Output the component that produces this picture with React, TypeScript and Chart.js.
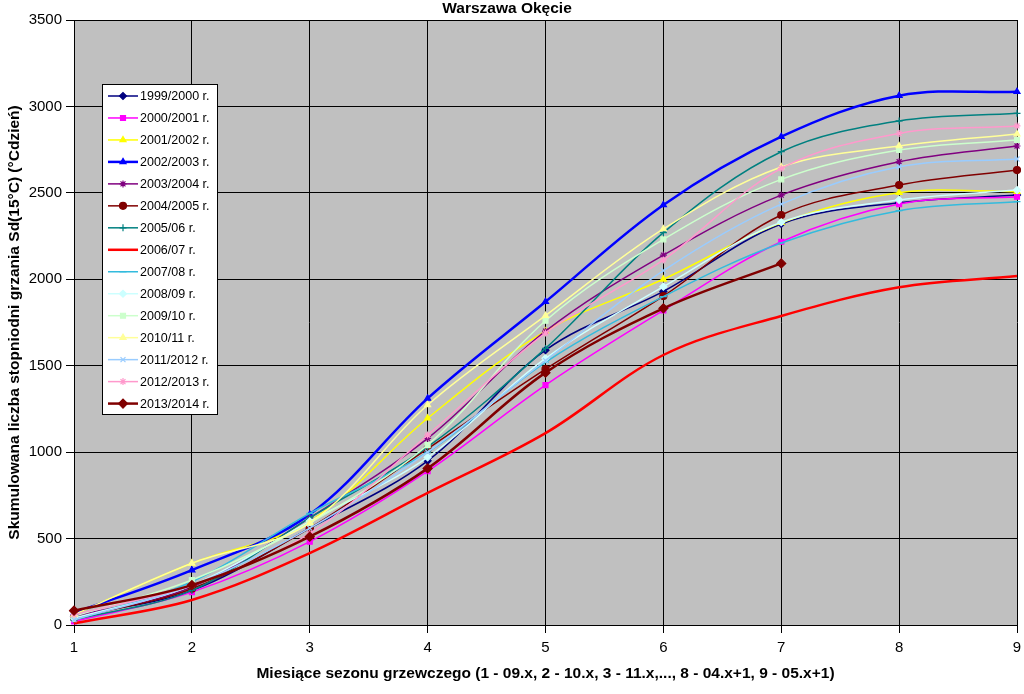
import { useEffect, useRef } from "react";
import { Chart, registerables } from "chart.js";
import { drawPoint } from "chart.js/helpers";

Chart.register(...registerables);

const MONTHS = ["1", "2", "3", "4", "5", "6", "7", "8", "9"];

const SEASONS = [
  "1999/2000 r.",
  "2000/2001 r.",
  "2001/2002 r.",
  "2002/2003 r.",
  "2003/2004 r.",
  "2004/2005 r.",
  "2005/06 r.",
  "2006/07 r.",
  "2007/08 r.",
  "2008/09 r.",
  "2009/10 r.",
  "2010/11 r.",
  "2011/2012 r.",
  "2012/2013 r.",
  "2013/2014 r.",
];

const COLORS = [
  "#000080", "#ff00ff", "#ffff00", "#0000ff", "#800080",
  "#800000", "#008080", "#ff0000", "#33bbdd", "#ccffff",
  "#ccffcc", "#ffff99", "#99ccff", "#ff99cc", "#800000",
];

const MARKERS = [
  "rectRot", "rect", "triangle", "triangle", "star",
  "circle", "cross", false, "line", "rectRot",
  "rect", "triangle", "crossRot", "star", "rectRot",
];

const WIDTHS = [1.5, 1.5, 1.5, 2.5, 1.5, 1.5, 1.5, 2.5, 1.5, 1.5, 1.5, 1.5, 1.5, 1.5, 2.5];

// cumulative degree-days per month of the season
const S1999 = [50, 200, 560, 950, 1590, 1930, 2320, 2443, 2487];
const S2000 = [20, 190, 482, 890, 1388, 1820, 2217, 2435, 2478];
const S2001 = [60, 357, 600, 1196, 1700, 2000, 2327, 2501, 2507];
const S2002 = [70, 318, 640, 1311, 1870, 2430, 2825, 3062, 3085];
const S2003 = [50, 220, 620, 1080, 1700, 2140, 2487, 2680, 2771];
const S2004 = [40, 210, 560, 1020, 1480, 1903, 2372, 2545, 2632];
const S2005 = [30, 200, 620, 1030, 1600, 2270, 2738, 2916, 2960];
const S2006 = [10, 145, 416, 764, 1110, 1562, 1788, 1954, 2019];
const S2007 = [30, 250, 646, 1000, 1520, 1900, 2210, 2397, 2449];
const S2008 = [40, 230, 600, 970, 1543, 1957, 2330, 2459, 2516];
const S2009 = [50, 260, 590, 1041, 1760, 2231, 2578, 2748, 2806];
const S2010 = [60, 357, 590, 1273, 1790, 2291, 2650, 2771, 2840];
const S2011 = [30, 230, 560, 1000, 1530, 2050, 2435, 2651, 2696];
const S2012 = [60, 230, 530, 1099, 1689, 2112, 2642, 2844, 2887];
const S2013 = [83, 231, 511, 906, 1460, 1832, 2092, null, null];

const VALUES = [S1999, S2000, S2001, S2002, S2003, S2004, S2005, S2006, S2007, S2008, S2009, S2010, S2011, S2012, S2013];

const FONT = "'Liberation Sans', Arial, sans-serif";

const frame = {
  id: "frame",
  beforeDraw(chart: any) {
    const { ctx, chartArea: a } = chart;
    ctx.save();
    ctx.fillStyle = "#c0c0c0";
    ctx.fillRect(a.left, a.top, a.right - a.left, a.bottom - a.top);
    ctx.restore();
  },
  afterDraw(chart: any) {
    const { ctx } = chart;
    ctx.save();
    ctx.fillStyle = "#000";
    ctx.font = `bold 15.5px ${FONT}`;
    ctx.textAlign = "center";
    ctx.textBaseline = "middle";
    ctx.fillText("Warszawa Okęcie", 507, 9);

    // legend box inside the plot
    ctx.fillStyle = "#fff";
    ctx.fillRect(102.5, 84.5, 115, 330);
    ctx.strokeStyle = "#000";
    ctx.lineWidth = 1;
    ctx.strokeRect(102.5, 84.5, 115, 330);
    ctx.font = `12.5px ${FONT}`;
    ctx.textAlign = "left";
    SEASONS.forEach((label, i) => {
      const y = 96 + i * 21.97;
      ctx.strokeStyle = COLORS[i];
      ctx.fillStyle = COLORS[i];
      ctx.lineWidth = WIDTHS[i];
      ctx.beginPath();
      ctx.moveTo(108, y);
      ctx.lineTo(138, y);
      ctx.stroke();
      if (MARKERS[i]) {
        ctx.lineWidth = 1.2;
        drawPoint(ctx, { pointStyle: MARKERS[i], radius: i === 14 ? 4.5 : 3.5, rotation: 0, borderWidth: 1.2 }, 123, y);
      }
      ctx.fillStyle = "#000";
      ctx.fillText(label, 140, y + 1);
    });
    ctx.restore();
  },
};

export default function App() {
  const canvasRef = useRef<HTMLCanvasElement>(null);

  useEffect(() => {
    document.body.style.margin = "0";
    if (!canvasRef.current) return;
    const chart = new Chart(canvasRef.current, {
      type: "line",
      data: {
        labels: MONTHS,
        datasets: VALUES.map((vals, i) => ({
          label: SEASONS[i],
          data: vals,
          borderColor: COLORS[i],
          backgroundColor: COLORS[i],
          pointBackgroundColor: COLORS[i],
          pointBorderColor: COLORS[i],
          borderWidth: WIDTHS[i],
          pointStyle: MARKERS[i] as any,
          pointRadius: MARKERS[i] ? (i === 14 ? 4.5 : 3.5) : 0,
          pointBorderWidth: 1.2,
          tension: 0.35,
          fill: false,
          order: 15 - i,
        })),
      },
      options: {
        responsive: true,
        maintainAspectRatio: false,
        animation: false,
        layout: { padding: { top: 20, right: 7, left: 0, bottom: 0 } },
        plugins: {
          legend: { display: false },
          tooltip: { enabled: false },
        },
        scales: {
          x: {
            grid: { color: "#000", lineWidth: 1, tickLength: 8, tickColor: "#000" },
            border: { color: "#000" },
            ticks: { color: "#000", font: { family: FONT, size: 15 }, padding: 6, maxRotation: 0 },
            title: {
              display: true,
              text: "Miesiące sezonu grzewczego (1 - 09.x, 2 - 10.x, 3 - 11.x,..., 8 - 04.x+1, 9 - 05.x+1)",
              color: "#000",
              font: { family: FONT, size: 15.5, weight: "bold" },
              padding: { top: 0, bottom: 11 },
            },
            afterFit(scale: any) {
              scale.height = 69;
              scale.paddingLeft = 0;
              scale.paddingRight = 0;
            },
          },
          y: {
            min: 0,
            max: 3500,
            ticks: {
              stepSize: 500,
              color: "#000",
              font: { family: FONT, size: 15 },
              padding: 4,
              callback: (v: any) => String(v),
            },
            grid: { color: "#000", lineWidth: 1, tickLength: 8, tickColor: "#000" },
            border: { color: "#000" },
            title: {
              display: true,
              text: "Skumulowana liczba stopniodni grzania Sd(15°C) (°Cdzień)",
              color: "#000",
              font: { family: FONT, size: 15.5, weight: "bold" },
              padding: { top: 5, bottom: 0 },
            },
            afterFit(scale: any) {
              scale.width = 74;
            },
          },
        },
      },
      plugins: [frame],
    });
    return () => chart.destroy();
  }, []);

  return (
    <div style={{ position: "relative", width: 1024, height: 694, background: "#fff" }}>
      <canvas ref={canvasRef} />
    </div>
  );
}
